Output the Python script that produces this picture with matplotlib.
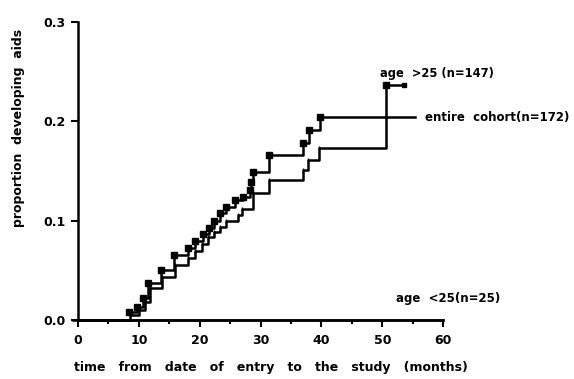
import matplotlib
matplotlib.use("Agg")
import matplotlib.pyplot as plt
from matplotlib.ticker import MultipleLocator

# Step times (months) and cumulative proportions developing AIDS
age_gt25_t = [0, 8.3, 9.7, 10.7, 11.5, 13.6, 15.8, 18.0, 19.3, 20.5, 21.5, 22.3,
              23.3, 24.3, 25.8, 27.1, 28.3, 28.5, 28.7, 31.3, 37.0, 38.0, 39.8, 50.6, 53.6]
age_gt25_v = [0, 0.008, 0.013, 0.022, 0.037, 0.050, 0.065, 0.072, 0.079, 0.086, 0.093, 0.100,
              0.108, 0.114, 0.121, 0.124, 0.131, 0.139, 0.149, 0.166, 0.178, 0.191, 0.204, 0.237, 0.237]

cohort_t = [0, 8.5, 10.0, 11.0, 11.8, 13.8, 16.0, 18.0, 19.2, 20.3, 21.4, 22.4,
            23.3, 24.3, 26.3, 27.0, 28.8, 31.4, 37.0, 37.8, 39.6, 50.6, 55.3]
cohort_v = [0, 0.005, 0.010, 0.018, 0.032, 0.043, 0.055, 0.062, 0.069, 0.076, 0.083, 0.089,
            0.094, 0.100, 0.106, 0.112, 0.128, 0.141, 0.151, 0.161, 0.173, 0.204, 0.204]

age_lt25_t = [0, 60]
age_lt25_v = [0, 0]

x_ticks = [0, 10, 20, 30, 40, 50, 60]
x_tick_labels = ["0", "10", "20", "30", "40", "50", "60"]
y_ticks = [0.0, 0.1, 0.2, 0.3]
y_tick_labels = ["0.0", "0.1", "0.2", "0.3"]

plt.rcParams['font.family'] = ['DejaVu Sans']
plt.rcParams['font.weight'] = 'bold'

fig = plt.figure(figsize=(5.74, 3.79), dpi=100)
ax = fig.add_axes([0.136, 0.156, 0.636, 0.786])

ax.step(age_lt25_t, age_lt25_v, where='post', color='black', lw=1.8, clip_on=False)
ax.step(cohort_t, cohort_v, where='post', color='black', lw=1.8, clip_on=False)
ax.step(age_gt25_t[1:], age_gt25_v[1:], where='post', color='black', lw=1.8, clip_on=False)
ax.plot(age_gt25_t[1:-1], age_gt25_v[1:-1], 's', color='black', ms=4)
ax.plot(age_gt25_t[-1], age_gt25_v[-1], 's', color='black', ms=3.5)
ax.plot(cohort_t[1:-1], cohort_v[1:-1], '|', color='black', ms=3, mew=1)

ax.set_xlim(0, 60)
ax.set_ylim(0, 0.3)
ax.set_xticks(x_ticks)
ax.set_xticklabels(x_tick_labels)
ax.xaxis.set_minor_locator(MultipleLocator(5))
ax.set_yticks(y_ticks)
ax.set_yticklabels(y_tick_labels)

for s in ['top', 'right']:
    ax.spines[s].set_visible(False)
ax.spines['left'].set_linewidth(1.8)
ax.spines['bottom'].set_linewidth(1.8)
ax.spines['bottom'].set_bounds(-0.8, 60)
ax.tick_params(axis='both', which='major', direction='out', length=5, width=1.5,
               labelsize=9, pad=5)
ax.tick_params(axis='x', which='minor', direction='out', length=3, width=1.5)
ax.tick_params(axis='y', which='major', pad=4)
for lbl in ax.get_xticklabels() + ax.get_yticklabels():
    lbl.set_fontweight('bold')

ax.set_xlabel("time   from   date   of   entry   to   the   study   (months)",
              fontsize=9, fontweight='bold')
ax.xaxis.set_label_coords(0.529, -0.161)
ax.xaxis.label.set_verticalalignment('center')
ax.set_ylabel("proportion  developing  aids", fontsize=9, fontweight='bold')
ax.yaxis.set_label_coords(-0.162, 0.644)
ax.yaxis.label.set_verticalalignment('center')

ax.text(49.6, 0.248, "age  >25 (n=147)", fontsize=8.3, fontweight='bold',
        ha='left', va='center', clip_on=False)
ax.text(57.0, 0.204, "entire  cohort(n=172)", fontsize=8.5, fontweight='bold',
        ha='left', va='center', clip_on=False)
ax.text(52.3, 0.022, "age  <25(n=25)", fontsize=8.5, fontweight='bold',
        ha='left', va='center', clip_on=False)

fig.savefig("out.png", dpi=100, facecolor='white')
